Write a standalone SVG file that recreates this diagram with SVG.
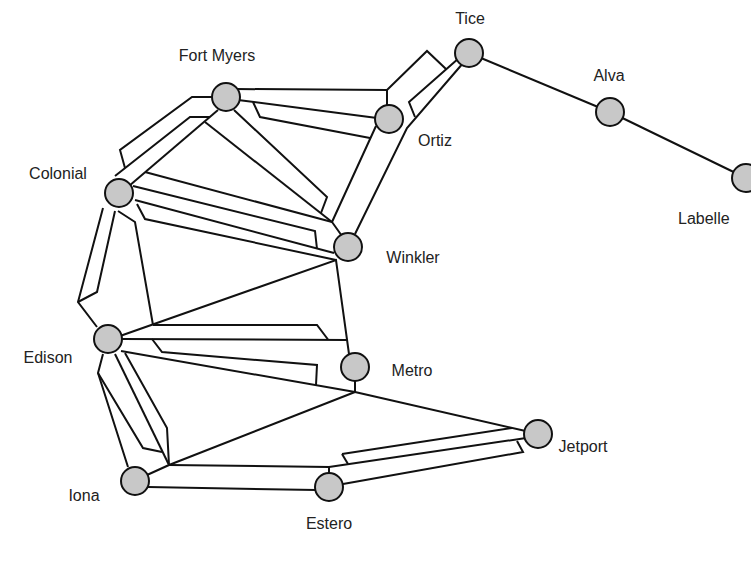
<svg xmlns="http://www.w3.org/2000/svg" width="751" height="562" viewBox="0 0 751 562">
<style>
.e{fill:none;stroke:#111;stroke-width:2;stroke-linejoin:miter;stroke-linecap:butt}
.n{fill:#c8c8c8;stroke:#111;stroke-width:2}
.t{font-family:"Liberation Sans",Arial,sans-serif;font-size:16px;fill:#222}
</style>
<rect width="751" height="562" fill="#fff"/>
<g id="connectors">
<path class="e" d="M469,53 L610,112"/>
<path class="e" d="M610,112 L746,178"/>
<path class="e" d="M464,62 L407,128 L355,234"/>
<path class="e" d="M459,58 L409,102 L415,117"/>
<path class="e" d="M236,89 L387,90 L427,51 L446,69"/>
<path class="e" d="M387,90 L387,106"/>
<path class="e" d="M238,100 L377,118"/>
<path class="e" d="M253,102 L260,117 L370,138"/>
<path class="e" d="M376,126 L332,222 L342,236"/>
<path class="e" d="M213,97 L192,97 L120,150 L125,168"/>
<path class="e" d="M115,176 L190,117 L210,117"/>
<path class="e" d="M218,110 L129,186"/>
<path class="e" d="M205,122 L332,222"/>
<path class="e" d="M234,110 L327,197 L321,213"/>
<path class="e" d="M145,172 L332,222"/>
<path class="e" d="M133,186 L315,231 L317,249"/>
<path class="e" d="M135,200 L334,253"/>
<path class="e" d="M137,204 L145,219 L336,260"/>
<path class="e" d="M120,336 L336,260 L349,354"/>
<path class="e" d="M103,208 L78,302 L97,327"/>
<path class="e" d="M115,211 L97,292 L78,302"/>
<path class="e" d="M118,211 L135,222 L153,325"/>
<path class="e" d="M153,325 L317,325 L328,339.5"/>
<path class="e" d="M122,339 L347,340"/>
<path class="e" d="M152,339 L162,352 L317,365 L316,385"/>
<path class="e" d="M121,351 L355,392"/>
<path class="e" d="M355,381 L355,392"/>
<path class="e" d="M355,392 L530,432"/>
<path class="e" d="M355,392 L169,465"/>
<path class="e" d="M103,354 L98,373 L128,467"/>
<path class="e" d="M98,373 L143,448 L162,452"/>
<path class="e" d="M115,354 L169,465"/>
<path class="e" d="M125,353 L167,428 L169,465 L147,475"/>
<path class="e" d="M169,465 L329,467 L329,475"/>
<path class="e" d="M148,487 L316,490"/>
<path class="e" d="M342,454 L512,428"/>
<path class="e" d="M342,454 L348,464"/>
<path class="e" d="M329,467 L526,438"/>
<path class="e" d="M517,441 L523,452 L343,484"/>
</g>
<g id="Tice"><circle class="n" cx="469" cy="53" r="14"/><text class="t" x="470" y="24" text-anchor="middle">Tice</text></g>
<g id="Alva"><circle class="n" cx="610" cy="112" r="14"/><text class="t" x="609" y="81" text-anchor="middle">Alva</text></g>
<g id="Labelle"><circle class="n" cx="746" cy="178" r="14"/><text class="t" x="678" y="224">Labelle</text></g>
<g id="FortMyers"><circle class="n" cx="226" cy="97" r="14"/><text class="t" x="217" y="61" text-anchor="middle">Fort Myers</text></g>
<g id="Ortiz"><circle class="n" cx="389" cy="119" r="14"/><text class="t" x="435" y="146" text-anchor="middle">Ortiz</text></g>
<g id="Colonial"><circle class="n" cx="119" cy="193" r="14"/><text class="t" x="58" y="179" text-anchor="middle">Colonial</text></g>
<g id="Winkler"><circle class="n" cx="348" cy="247" r="14"/><text class="t" x="413" y="263" text-anchor="middle">Winkler</text></g>
<g id="Edison"><circle class="n" cx="108" cy="339" r="14"/><text class="t" x="48" y="363" text-anchor="middle">Edison</text></g>
<g id="Metro"><circle class="n" cx="355" cy="367" r="14"/><text class="t" x="412" y="376" text-anchor="middle">Metro</text></g>
<g id="Jetport"><circle class="n" cx="538" cy="434" r="14"/><text class="t" x="583" y="452" text-anchor="middle">Jetport</text></g>
<g id="Iona"><circle class="n" cx="135" cy="481" r="14"/><text class="t" x="84" y="501" text-anchor="middle">Iona</text></g>
<g id="Estero"><circle class="n" cx="329" cy="487" r="14"/><text class="t" x="329" y="529" text-anchor="middle">Estero</text></g>
</svg>
